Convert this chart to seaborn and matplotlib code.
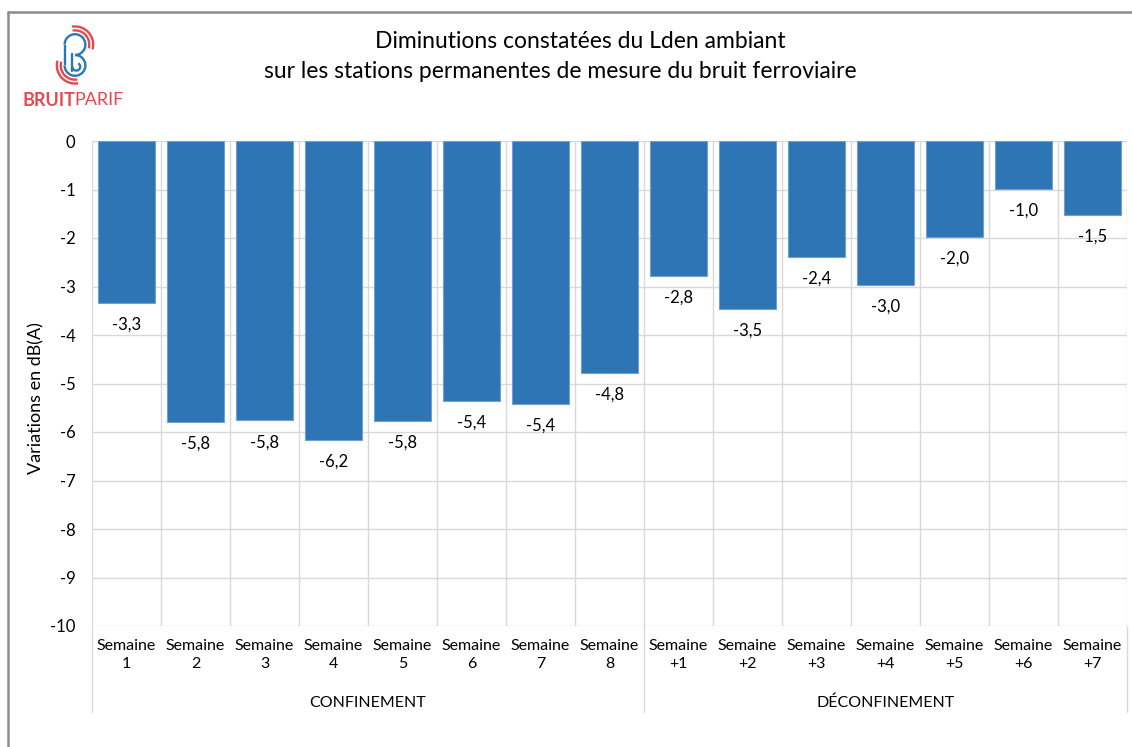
import matplotlib
matplotlib.use('Agg')
import matplotlib.pyplot as plt
import seaborn as sns
import pandas as pd
from matplotlib.lines import Line2D
from matplotlib.patches import Arc
from matplotlib.text import Annotation

# ---------------- data ----------------
week_labels = ["Semaine\n1", "Semaine\n2", "Semaine\n3", "Semaine\n4", "Semaine\n5",
               "Semaine\n6", "Semaine\n7", "Semaine\n8",
               "Semaine\n+1", "Semaine\n+2", "Semaine\n+3", "Semaine\n+4",
               "Semaine\n+5", "Semaine\n+6", "Semaine\n+7"]
variations = [-3.33, -5.79, -5.76, -6.16, -5.77, -5.36, -5.42, -4.78,
              -2.78, -3.46, -2.39, -2.96, -1.97, -0.98, -1.53]
groups = ["CONFINEMENT", "DÉCONFINEMENT"]
group_sizes = [8, 7]
title_lines = ["Diminutions constatées du Lden ambiant",
               "sur les stations permanentes de mesure du bruit ferroviaire"]
y_label = "Variations en dB(A)"

# ---------------- style ----------------
sns.set_theme(style="white")
FONT = ["Lato", "DejaVu Sans"]
plt.rcParams['font.family'] = FONT
BAR = "#2E75B6"
GRID = "#D9D9D9"
TXT = "#000000"

W, H = 1132, 747
fig = plt.figure(figsize=(W / 100, H / 100), dpi=100)
fig.patch.set_facecolor("white")

ax_l, ax_r, ax_t, ax_b = 92, 1127, 141, 626
ax = fig.add_axes([ax_l / W, (H - ax_b) / H, (ax_r - ax_l) / W, (ax_b - ax_t) / H])

df = pd.DataFrame({"semaine": week_labels, "variation": variations})
sns.barplot(data=df, x="semaine", y="variation", color=BAR, saturation=1,
            width=0.83, edgecolor="#6FA0D0", linewidth=0.8, ax=ax, zorder=3)

ax.set_ylim(-10, 0)
ax.set_xlim(-0.5, len(week_labels) - 0.5)
ax.set_yticks(range(-10, 1))
ax.set_yticklabels([str(v) for v in range(-10, 1)])
for s in ax.spines.values():
    s.set_visible(False)

# horizontal grid + category boundary verticals
ax.set_axisbelow(True)
ax.yaxis.grid(True, color=GRID, linewidth=1.0, zorder=0)
ax.set_xticks([i - 0.5 for i in range(len(week_labels) + 1)], minor=True)
ax.xaxis.grid(True, which="minor", color=GRID, linewidth=1.0, zorder=0)
ax.xaxis.grid(False, which="major")

ax.tick_params(axis="y", length=0, pad=12, labelsize=12, labelcolor=TXT)
ax.tick_params(axis="x", which="both", length=0, pad=9, labelsize=11.5, labelcolor=TXT)
for t in ax.get_xticklabels():
    t.set_linespacing(1.4)

ax.set_xlabel("")
ax.set_ylabel(y_label, fontsize=13, color=TXT)
ax.yaxis.set_label_coords(-0.046, 0.47)

# data labels
lbls = [f"{v:.1f}".replace(".", ",") for v in variations]
ax.bar_label(ax.containers[0], labels=lbls, padding=10, fontsize=12, color=TXT)

# group separators and labels in category area
depth = -(712 - ax_b) / (ax_b - ax_t)
pos = -0.5
ax.add_line(Line2D([pos, pos], [0, depth], transform=ax.get_xaxis_transform(),
                   color=GRID, linewidth=1.0, clip_on=False))
for g, n in zip(groups, group_sizes):
    centre = pos + n / 2
    ax.text(centre, -(703 - ax_b) / (ax_b - ax_t), g, transform=ax.get_xaxis_transform(),
            ha="center", va="center", fontsize=11.5, color=TXT)
    pos += n
    ax.add_line(Line2D([pos, pos], [0, depth], transform=ax.get_xaxis_transform(),
                       color=GRID, linewidth=1.0, clip_on=False))

# titles
fig.text(580 / W, 1 - 41 / H, title_lines[0], ha="center", va="center", fontsize=16.5, color=TXT)
fig.text(560 / W, 1 - 72 / H, title_lines[1], ha="center", va="center", fontsize=16.5, color=TXT)

# outer frame
fig.add_artist(Line2D([8 / W, 1.0], [1 - 12 / H, 1 - 12 / H], transform=fig.transFigure,
                      color="#8C8C8C", linewidth=1.8))
fig.add_artist(Line2D([8 / W, 8 / W], [0, 1 - 12 / H], transform=fig.transFigure,
                      color="#8C8C8C", linewidth=1.8))

# logo
RED = "#E5484F"
BLUE = "#2879B6"
lax = fig.add_axes([50 / W, (H - 88) / H, 50 / W, 66 / H])
lax.set_xlim(68 - 19.25, 68 + 19.25)
lax.set_ylim(35 - 25.4, 35 + 25.4)
lax.set_aspect("equal")
lax.axis("off")
lw = 1.7
lax.add_patch(Arc((68, 43), 16, 16, theta1=-90, theta2=180, color=BLUE, lw=lw))
lax.add_patch(Arc((68, 27), 16, 16, theta1=180, theta2=450, color=BLUE, lw=lw))
lax.plot([60, 60], [43, 27], color=BLUE, lw=lw, solid_capstyle="butt")
lax.plot([66, 66], [36, 23], color=BLUE, lw=lw)
lax.add_patch(Arc((69, 26), 6, 6, theta1=180, theta2=420, color=BLUE, lw=lw))
for r in (22, 28):
    lax.add_patch(Arc((68, 43), r, r, theta1=-15, theta2=100, color=RED, lw=lw))
    lax.add_patch(Arc((68, 27), r, r, theta1=165, theta2=280, color=RED, lw=lw))

t1 = fig.text(23 / W, 1 - 100 / H, "BRUIT", ha="left", va="center", fontsize=13,
              fontweight="bold", color=RED)
fig.add_artist(Annotation("PARIF", xy=(1, 0.5), xycoords=t1, xytext=(-1, 0),
                          textcoords="offset points", va="center", ha="left",
                          fontsize=13, color=RED))

fig.savefig("out.png", dpi=100, facecolor="white")
